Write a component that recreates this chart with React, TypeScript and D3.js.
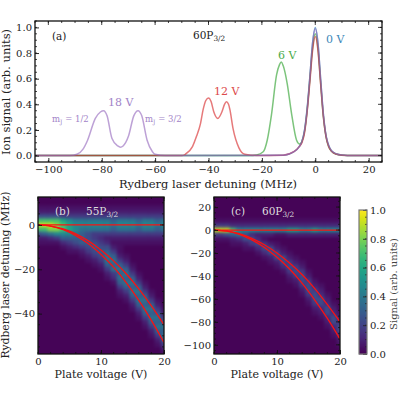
import * as d3 from 'd3';
import * as React from 'react';

// spectra: [detuning MHz], [signal]
const peakDetuning = [-105, -30, -12, -10, -8, -6, -5, -4, -3, -2, -1, 0, 1, 2, 3, 4, 5, 6, 8, 10, 14, 25];
const blueSignal = [0, 0, 0.003, 0.01, 0.03, 0.07, 0.11, 0.2, 0.38, 0.62, 0.88, 1, 0.88, 0.6, 0.33, 0.16, 0.08, 0.04, 0.012, 0.004, 0, 0];
const greenDetuning = [-105, -25, -22, -19.5, -18, -16.4, -14.5, -13.4, -12.7, -12, -10.5, -8.9, -7, -5.8, -5, -4, -3, -2, -1, 0, 1, 2, 3, 4, 5, 6, 8, 10, 14, 25];
const greenSignal = [0, 0, 0.005, 0.03, 0.12, 0.32, 0.63, 0.71, 0.73, 0.7, 0.56, 0.33, 0.12, 0.09, 0.11, 0.19, 0.36, 0.6, 0.84, 0.95, 0.84, 0.57, 0.31, 0.15, 0.07, 0.035, 0.01, 0.003, 0, 0];
const redDetuning = [-105, -50, -48.7, -46, -44.5, -43, -42, -41, -40, -39, -38, -36.5, -35, -34, -33.3, -32.5, -32, -30.8, -28.6, -26.4, -22, -12, -8, -6, -5, -4, -3, -2, -1, 0, 1, 2, 3, 4, 5, 6, 8, 10, 14, 25];
const redSignal = [0, 0, 0.01, 0.07, 0.15, 0.25, 0.36, 0.43, 0.45, 0.42, 0.34, 0.29, 0.34, 0.4, 0.42, 0.4, 0.36, 0.21, 0.06, 0.01, 0, 0.003, 0.03, 0.07, 0.1, 0.18, 0.35, 0.58, 0.82, 0.93, 0.82, 0.56, 0.31, 0.15, 0.07, 0.035, 0.01, 0.003, 0, 0];
const purpleDetuning = [-105, -92, -89.3, -87, -85.3, -82.4, -80.5, -79.3, -78, -76.2, -74, -73, -72, -70, -68, -66.4, -65, -63, -61, -60, -56, -12, -8, -6, -5, -4, -3, -2, -1, 0, 1, 2, 3, 4, 5, 6, 8, 10, 14, 25];
const purpleSignal = [0, 0, 0.01, 0.05, 0.12, 0.29, 0.34, 0.35, 0.31, 0.135, 0.075, 0.065, 0.075, 0.15, 0.31, 0.35, 0.31, 0.12, 0.03, 0.01, 0, 0.003, 0.03, 0.07, 0.11, 0.2, 0.37, 0.62, 0.88, 0.99, 0.88, 0.6, 0.33, 0.16, 0.08, 0.04, 0.012, 0.004, 0, 0];

// heatmaps, one string per plate voltage (0..20 V), one character per detuning row.
// Characters index signalLevels, missing trailing rows are background.
const signalLevels = [0.01, 0.04, 0.08, 0.12, 0.17, 0.23, 0.3, 0.38, 0.47, 0.58, 0.7, 0.82, 0.92];
const voltages = d3.range(0, 21);
const heatB = [
  '00125aca521', '00125aca621', '00125acb731', '00125abb841', '001249aa8631', '0012489986421',
  '0012478876531', '00124787666421', '001247875565421', '0012478744565421', '00124787434565421',
  '0012478742356776421', '00124676421246767431', '001247874211' + '12467676421',
  '00124787421' + '00' + '12467676421', '00124787421' + '0000' + '12467676421', '00124676421' + '000000' + '12467676421',
  '00124787421' + '00000000' + '12467676421', '00124787421' + '0000000000' + '12467676421',
  '00124676421' + '000000000000' + '12467676421', '00124787421' + '00000000000000' + '12467676421',
];
const heatBTop = 12;
const heatBStep = 2;
const heatC = [
  '0000014c41', '0000014c41', '0000014c51', '0000013a621', '00000138731', '000001385521', '000001383541',
  '0000013823531', '00000138214531', '000001382025521', '0000013810125521', '00000138100125531',
  '0000013920001245421', '00000139200001245421', '000001382' + '00000' + '12455421',
  '000001382' + '0000000' + '12455421', '000001392' + '000000000' + '12455421', '000001382' + '0000000000' + '12355321',
  '000001382' + '000000000000' + '12355321', '000001382' + '00000000000000' + '12355321', '000001382' + '0000000000000000' + '12355321',
];
const heatCTop = 28;
const heatCStep = 4;

// fitted Stark curves in the heatmaps
const fitVoltage = [0, 2, 4, 6, 8, 10, 12, 14, 16, 18, 20];
const fitZero = [0, 0, 0, 0, 0, 0, 0, 0, 0, 0, 0];
const fitBUpper = [0, -0.5, -1.8, -4, -7.2, -11.3, -16.2, -22, -28.8, -36.5, -45];
const fitBLower = [0, -0.5, -2.1, -4.8, -8.5, -13.3, -19, -26, -34, -43, -53];
const fitCUpper = [0, -0.8, -3.2, -7.2, -12.8, -20, -28.8, -39, -51, -65, -80];
const fitCLower = [0, -1, -3.8, -8.6, -15.2, -23.8, -34, -46.5, -61, -77, -95];

const xTicksA = [-100, -80, -60, -40, -20, 0, 20];
const yTicksA = [0, 0.2, 0.4, 0.6, 0.8, 1];
const xTicksV = [0, 10, 20];
const yTicksB = [-40, -20, 0];
const yTicksC = [-100, -80, -60, -40, -20, 0, 20];
const colorTicks = [0, 0.2, 0.4, 0.6, 0.8, 1];

const FONT = '"DejaVu Serif"';
const INK = '#222';
const TICK_SIZE = 10;

type G = d3.Selection<SVGGElement, unknown, null, undefined>;
type Linear = d3.ScaleLinear<number, number>;

function minors(s: Linear, step: number) {
  const [a, b] = s.domain();
  return d3.range(Math.ceil(a / step), Math.floor(b / step) + 1).map(k => k * step);
}

// box with inward ticks on all four sides, like the matplotlib style of the figure
function frame(g: G, x: Linear, y: Linear, xT: number[], yT: number[], xMinor: number, yMinor: number, yFmt: string) {
  const [x0, x1] = x.range();
  const [y1, y0] = y.range();
  const tidy = (a: G) => {
    a.select('.domain').remove();
    a.selectAll('line').attr('stroke', '#111').attr('stroke-width', 0.9);
    a.selectAll('text').attr('font-family', FONT).attr('font-size', TICK_SIZE).attr('fill', INK);
  };
  const bottom = g.append('g').attr('transform', `translate(0,${y1})`);
  bottom.call(d3.axisBottom(x).tickValues(xT).tickSizeInner(-4).tickSizeOuter(0).tickPadding(3.5).tickFormat(d3.format('d') as any));
  tidy(bottom);
  const left = g.append('g').attr('transform', `translate(${x0},0)`);
  left.call(d3.axisLeft(y).tickValues(yT).tickSizeInner(-4).tickSizeOuter(0).tickPadding(3).tickFormat(d3.format(yFmt) as any));
  tidy(left);
  const ticks = g.append('g').attr('stroke', '#111').attr('stroke-width', 0.8);
  xT.forEach(v => {
    ticks.append('line').attr('x1', x(v)).attr('x2', x(v)).attr('y1', y0).attr('y2', y0 + 4);
  });
  yT.forEach(v => {
    ticks.append('line').attr('x1', x1).attr('x2', x1 - 4).attr('y1', y(v)).attr('y2', y(v));
  });
  minors(x, xMinor).forEach(v => {
    ticks.append('line').attr('x1', x(v)).attr('x2', x(v)).attr('y1', y1).attr('y2', y1 - 2);
    ticks.append('line').attr('x1', x(v)).attr('x2', x(v)).attr('y1', y0).attr('y2', y0 + 2);
  });
  minors(y, yMinor).forEach(v => {
    ticks.append('line').attr('x1', x0).attr('x2', x0 + 2).attr('y1', y(v)).attr('y2', y(v));
    ticks.append('line').attr('x1', x1).attr('x2', x1 - 2).attr('y1', y(v)).attr('y2', y(v));
  });
  g.append('rect').attr('x', x0).attr('y', y0).attr('width', x1 - x0).attr('height', y1 - y0)
    .attr('fill', 'none').attr('stroke', '#111').attr('stroke-width', 1.3);
}

function label(g: G, px: number, py: number, parts: [string, boolean?][], color: string, size = 11.5, rotate = 0, anchor = 'middle') {
  const t = g.append('text').attr('font-family', FONT).attr('font-size', size).attr('fill', color)
    .attr('text-anchor', anchor).attr('transform', `translate(${px},${py}) rotate(${rotate})`);
  parts.forEach(([s, sub]) => {
    const ts = t.append('tspan').text(s);
    if (sub) ts.attr('font-size', size * 0.7).attr('dy', size * 0.2);
    else ts.attr('dy', t.selectAll('tspan').size() > 1 ? -size * 0.2 : 0);
  });
}

function heatmap(svg: G, id: string, x: Linear, y: Linear, cols: string[], top: number, step: number, xT: number[], yT: number[], yMinor: number, fits: number[][]) {
  const color = d3.scaleSequential(d3.interpolateViridis).domain([0, 1]);
  const [x0, x1] = x.range();
  const [y1, y0] = y.range();
  svg.append('clipPath').attr('id', id).append('rect').attr('x', x0).attr('y', y0).attr('width', x1 - x0).attr('height', y1 - y0);
  const clip = svg.append('g').attr('clip-path', `url(#${id})`);
  const blurred = clip.append('g').attr('filter', 'url(#soft)');
  blurred.append('rect').attr('x', x0 - 12).attr('y', y0 - 12).attr('width', x1 - x0 + 24).attr('height', y1 - y0 + 24).attr('fill', color(signalLevels[0]));
  const rows = d3.range(0, Math.ceil((top - y.domain()[0]) / step) + 1);
  voltages.forEach((v, i) => {
    rows.forEach(r => {
      const ch = cols[i][r] ?? '0';
      if (ch === '0') return;
      const d = top - r * step;
      const yTop = y(d + step / 2);
      blurred.append('rect')
        .attr('x', x(v - 0.5)).attr('width', x(v + 0.5) - x(v - 0.5) + 0.4)
        .attr('y', yTop).attr('height', y(d - step / 2) - yTop + 0.4)
        .attr('fill', color(signalLevels[parseInt(ch, 16)]));
    });
  });
  const line = d3.line<number>().x((_, i) => x(fitVoltage[i])).y(d => y(d)).curve(d3.curveMonotoneX);
  fits.forEach(f => {
    clip.append('path').attr('d', line(f)).attr('fill', 'none').attr('stroke', '#fa1212').attr('stroke-width', 1.3);
  });
  const g = svg.append('g');
  frame(g, x, y, xT, yT, 2, yMinor, 'd');
}

export default function App() {
  const ref = React.useRef<SVGSVGElement | null>(null);

  React.useEffect(() => {
    if (!ref.current) return;
    const root = d3.select(ref.current);
    root.selectAll('*').remove();
    const svg = root.append('g') as unknown as G;
    const filter = root.append('filter').attr('id', 'soft').attr('x', '-5%').attr('y', '-5%').attr('width', '110%').attr('height', '110%');
    filter.attr('color-interpolation-filters', 'sRGB');
    filter.append('feGaussianBlur').attr('stdDeviation', 1.5);

    // panel (a)
    const xA = d3.scaleLinear().domain([-105, 25]).range([35, 382]);
    const yA = d3.scaleLinear().domain([-0.05, 1.05]).range([162, 21]);
    const spectra: [number[], number[], string][] = [
      [peakDetuning, blueSignal, '#1f77b4'],
      [greenDetuning, greenSignal, '#2ca02c'],
      [redDetuning, redSignal, '#d62728'],
      [purpleDetuning, purpleSignal, '#9467bd'],
    ];
    const gA = svg.append('g');
    spectra.forEach(([xs, ys, c]) => {
      const line = d3.line<number>().x((_, i) => xA(xs[i])).y(d => yA(d)).curve(d3.curveMonotoneX);
      gA.append('path').attr('d', line(ys)).attr('fill', 'none').attr('stroke', c).attr('stroke-width', 1.5).attr('stroke-opacity', 0.62);
    });
    frame(gA, xA, yA, xTicksA, yTicksA, 5, 0.05, '.1f');
    label(gA, 52, 40, [['(a)']], INK, 10.5, 0, 'start');
    label(gA, 193, 39, [['60P'], ['3/2', true]], INK, 10.5, 0, 'start');
    label(gA, 326, 43, [['0 V']], '#3d87b8', 11, 0, 'start');
    label(gA, 278, 59, [['6 V']], '#4cab4c', 11, 0, 'start');
    label(gA, 214, 95, [['12 V']], '#dc4a4b', 11, 0, 'start');
    label(gA, 108, 106, [['18 V']], '#a283c8', 11, 0, 'start');
    label(gA, 52, 122, [['m'], ['J', true], [' = 1/2']], '#a283c8', 8.5, 0, 'start');
    label(gA, 145, 122, [['m'], ['J', true], [' = 3/2']], '#a283c8', 8.5, 0, 'start');
    label(gA, 208, 188, [['Rydberg laser detuning (MHz)']], INK);
    label(gA, 10, 92, [['Ion signal (arb. units)']], INK, 11.5, -90);

    // panel (b)
    const xB = d3.scaleLinear().domain([0, 20]).range([38, 164]);
    const yB = d3.scaleLinear().domain([-58.2, 12.6]).range([354, 197]);
    heatmap(svg, 'clip-b', xB, yB, heatB, heatBTop, heatBStep, xTicksV, yTicksB, 5, [fitZero, fitBUpper, fitBLower]);
    label(svg, 55, 215, [['(b)']], '#ddd', 10.5, 0, 'start');
    label(svg, 86, 215, [['55P'], ['3/2', true]], '#ddd', 10.5, 0, 'start');
    label(svg, 101, 378, [['Plate voltage (V)']], INK, 11);
    label(svg, 9, 275, [['Rydberg laser detuning (MHz)']], INK, 10.8, -90);

    // panel (c)
    const xC = d3.scaleLinear().domain([0, 20]).range([214, 340]);
    const yC = d3.scaleLinear().domain([-108, 28.8]).range([354, 197]);
    heatmap(svg, 'clip-c', xC, yC, heatC, heatCTop, heatCStep, xTicksV, yTicksC, 5, [fitZero, fitCUpper, fitCLower]);
    label(svg, 231, 215, [['(c)']], '#ddd', 10.5, 0, 'start');
    label(svg, 262, 215, [['60P'], ['3/2', true]], '#ddd', 10.5, 0, 'start');
    label(svg, 277, 378, [['Plate voltage (V)']], INK, 11);

    // colour bar, ticks point into the bar
    const yBar = d3.scaleLinear().domain([0, 1]).range([354, 210]);
    const bar = svg.append('g');
    d3.range(0, 144).forEach(k => {
      bar.append('rect').attr('x', 359).attr('width', 8).attr('y', 210 + k).attr('height', 1.4)
        .attr('fill', d3.interpolateViridis(1 - (k + 0.5) / 144));
    });
    const barAxis = bar.append('g').attr('transform', 'translate(367,0)');
    barAxis.call(d3.axisRight(yBar).tickValues(colorTicks).tickSizeInner(-4).tickSizeOuter(0).tickPadding(3).tickFormat(d3.format('.1f') as any));
    barAxis.select('.domain').remove();
    barAxis.selectAll('line').attr('stroke', '#222').attr('stroke-width', 0.8);
    barAxis.selectAll('text').attr('font-family', FONT).attr('font-size', TICK_SIZE).attr('fill', INK);
    minors(yBar, 0.05).forEach(v => {
      bar.append('line').attr('x1', 367).attr('x2', 365).attr('y1', yBar(v)).attr('y2', yBar(v)).attr('stroke', '#222').attr('stroke-width', 0.7);
    });
    bar.append('rect').attr('x', 359).attr('y', 210).attr('width', 8).attr('height', 144)
      .attr('fill', 'none').attr('stroke', '#777').attr('stroke-width', 1.2);
    label(svg, 397, 284, [['Signal (arb. units)']], '#444', 10, -90);
  }, []);

  return <svg ref={ref} width={400} height={400} style={{ position: 'absolute', left: 0, top: 0, background: '#fff' }} />;
}
